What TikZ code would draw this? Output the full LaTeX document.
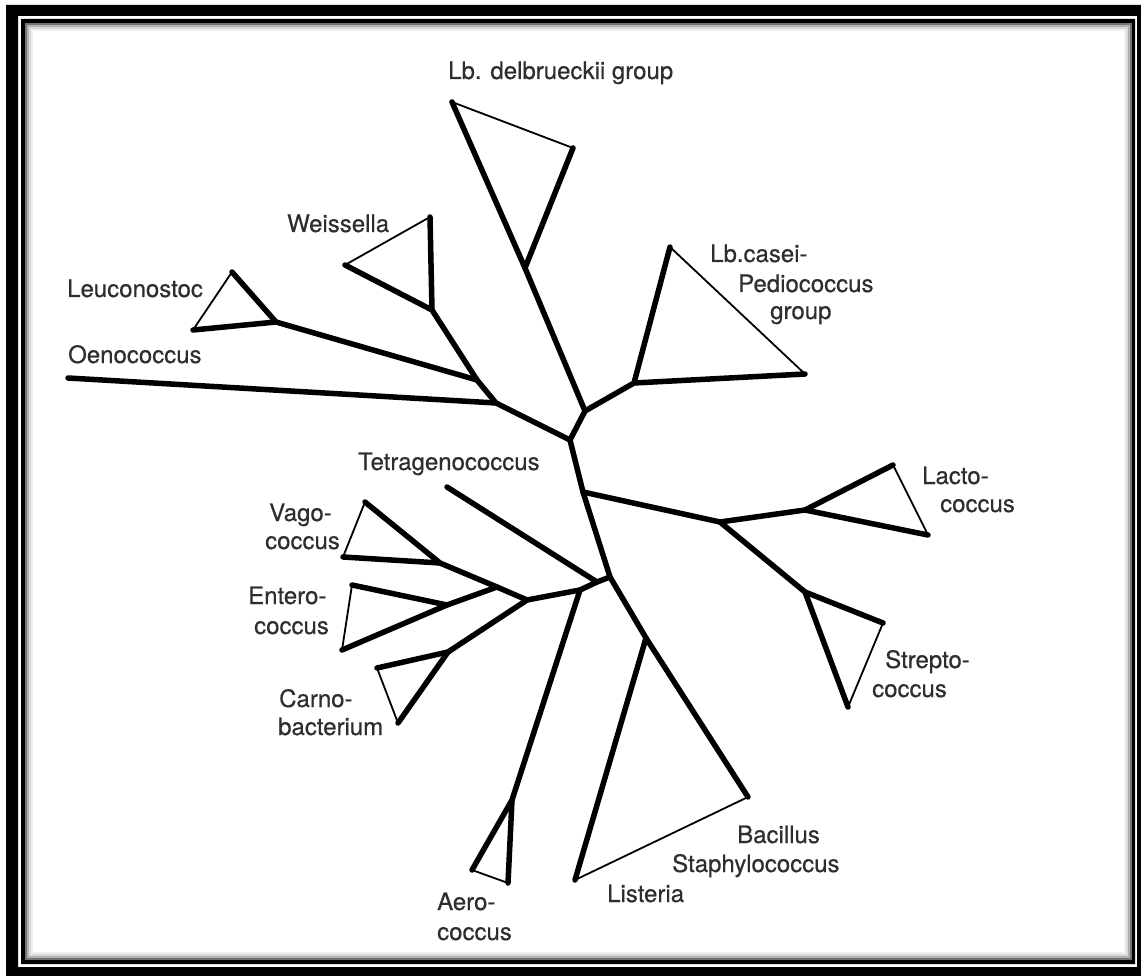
\documentclass[tikz,border=0pt]{standalone}
\usepackage{fontspec}
\setmainfont{TeX Gyre Heros}
\newfontfamily\lblfont{TeX Gyre Heros}[FakeBold=0.5]
\begin{document}
\begin{tikzpicture}[x=1pt,y=-1pt,
  br/.style={line width=5.5pt, line cap=round, line join=round},
  tn/.style={line width=1.8pt, line cap=round},
  lbl/.style={font=\lblfont\fontsize{24}{28}\selectfont, text=black!82, inner sep=0pt, anchor=base west}]
\useasboundingbox (0,0) rectangle (1141,976);
% frame
\fill[black,even odd rule] (6,5) rectangle (1141,976) (18,16) rectangle (1137,967);
\fill[black,even odd rule] (21,19) rectangle (1135,964) (25,23) rectangle (1132,960);
\draw[black!55,line width=2pt] (26,24) rectangle (1131,959);
\draw[black!30,line width=2pt] (28,26) rectangle (1129,957);
\draw[black!15,line width=2pt] (30,28) rectangle (1127,955);
\draw[black!6,line width=2pt] (32,30) rectangle (1125,953);
% coordinates
\coordinate (J1) at (585,411);
\coordinate (J0) at (570,440);
\coordinate (Pl) at (583,492);
\coordinate (J3) at (610,577);
\coordinate (Pli) at (646,638);
\coordinate (B) at (748,797);
\coordinate (Li) at (575,880);
\coordinate (D1) at (452,102);
\coordinate (Dn) at (525,268);
\coordinate (D2) at (573,148);
\coordinate (Cn) at (634,383);
\coordinate (Ca) at (670,247);
\coordinate (Cb) at (805,374);
\coordinate (O) at (496,403);
\coordinate (Oe) at (68,378);
\coordinate (LW) at (477,380);
\coordinate (Wn) at (432,310);
\coordinate (W1) at (345,265);
\coordinate (W2) at (430,217);
\coordinate (Ln) at (276,322);
\coordinate (L1) at (232,272);
\coordinate (L2) at (193,330);
\coordinate (Lq) at (720,522);
\coordinate (Lcn) at (805,510);
\coordinate (Lc1) at (893,465);
\coordinate (Lc2) at (928,535);
\coordinate (Sn) at (805,592);
\coordinate (S1) at (883,623);
\coordinate (S2) at (848,707);
\coordinate (T) at (597,582);
\coordinate (J) at (580,590);
\coordinate (L) at (527,600);
\coordinate (Te) at (447,487);
\coordinate (An) at (512,800);
\coordinate (A1) at (472,870);
\coordinate (A2) at (508,883);
\coordinate (VE) at (497,587);
\coordinate (Vn) at (440,563);
\coordinate (V1) at (365,502);
\coordinate (V2) at (343,557);
\coordinate (En) at (447,605);
\coordinate (E1) at (352,585);
\coordinate (E2) at (342,650);
\coordinate (Cr) at (448,652);
\coordinate (Cr1) at (377,668);
\coordinate (Cr2) at (398,723);
% thick branches
\draw[br] (D1) -- (Dn) -- (J1) -- (J0) -- (Pl) -- (J3) -- (Pli) -- (B);
\draw[br] (Dn) -- (D2);
\draw[br] (J1) -- (Cn) -- (Ca);
\draw[br] (Cn) -- (Cb);
\draw[br] (J0) -- (O) -- (Oe);
\draw[br] (O) -- (LW) -- (Wn) -- (W1);
\draw[br] (Wn) -- (W2);
\draw[br] (LW) -- (Ln) -- (L1);
\draw[br] (Ln) -- (L2);
\draw[br] (Pl) -- (Lq) -- (Lcn) -- (Lc1);
\draw[br] (Lcn) -- (Lc2);
\draw[br] (Lq) -- (Sn) -- (S1);
\draw[br] (Sn) -- (S2);
\draw[br] (Pli) -- (Li);
\draw[br] (J3) -- (T) -- (J) -- (L) -- (VE) -- (Vn) -- (V1);
\draw[br] (Vn) -- (V2);
\draw[br] (T) -- (Te);
\draw[br] (J) -- (An) -- (A1);
\draw[br] (An) -- (A2);
\draw[br] (VE) -- (En) -- (E2);
\draw[br] (En) -- (E1);
\draw[br] (L) -- (Cr) -- (Cr1);
\draw[br] (Cr) -- (Cr2);
% thin closing edges
\draw[tn] (D1) -- (D2);
\draw[tn] (Ca) -- (Cb);
\draw[tn] (W1) -- (W2);
\draw[tn] (L1) -- (L2);
\draw[tn] (Lc1) -- (Lc2);
\draw[tn] (S1) -- (S2);
\draw[tn] (B) -- (Li);
\draw[tn] (A1) -- (A2);
\draw[tn] (V1) -- (V2);
\draw[tn] (E1) -- (E2);
\draw[tn] (Cr1) -- (Cr2);
% labels
\node[lbl] (tDel) at (448,79) {Lb. delbrueckii group};
\node[lbl] (tWei) at (287,232) {Weissella};
\node[lbl] (tLeu) at (67,297) {Leuconostoc};
\node[lbl] (tOen) at (68,363) {Oenococcus};
\node[lbl] (tCa1) at (710,262) {Lb.casei-};
\node[lbl] (tCa2) at (738,292) {Pediococcus};
\node[lbl] (tCa3) at (770,319) {group};
\node[lbl] (tLa1) at (922,484) {Lacto-};
\node[lbl] (tLa2) at (940,512) {coccus};
\node[lbl] (tSt1) at (885,668) {Strepto-};
\node[lbl] (tSt2) at (872,697) {coccus};
\node[lbl] (tTet) at (358,470) {Tetragenococcus};
\node[lbl] (tVa1) at (269,521) {Vago-};
\node[lbl] (tVa2) at (265,549) {coccus};
\node[lbl] (tEn1) at (248,604) {Entero-};
\node[lbl] (tEn2) at (254,634) {coccus};
\node[lbl] (tCr1) at (279,707) {Carno-};
\node[lbl] (tCr2) at (278,735) {bacterium};
\node[lbl] (tAe1) at (437,910) {Aero-};
\node[lbl] (tAe2) at (437,940) {coccus};
\node[lbl] (tLis) at (607,902) {Listeria};
\node[lbl] (tBa1) at (737,843) {Bacillus};
\node[lbl] (tBa2) at (672,872) {Staphylococcus};
\end{tikzpicture}
\end{document}
